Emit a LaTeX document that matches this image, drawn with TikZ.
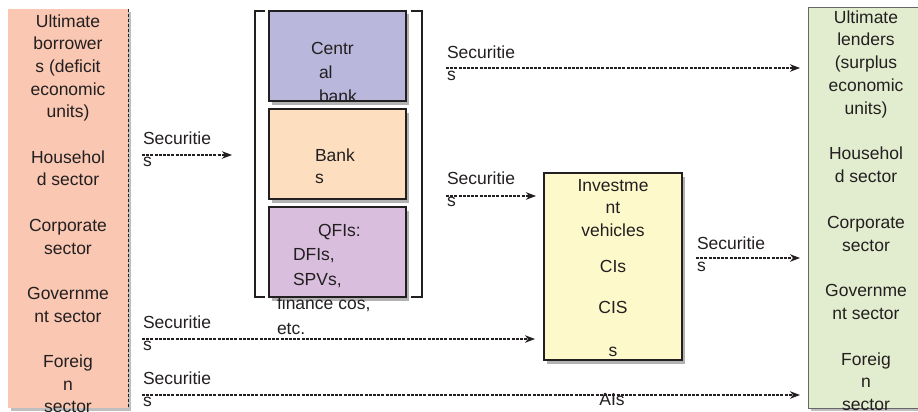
\documentclass[tikz,border=0pt]{standalone}
\usepackage{fontspec}
\setmainfont{Liberation Sans}
\usetikzlibrary{arrows.meta,shadows}
\definecolor{txt}{HTML}{231F20}
\definecolor{borrowfill}{HTML}{F9C7B2}
\definecolor{lendfill}{HTML}{E2EDCF}
\definecolor{cbfill}{HTML}{B9B7DB}
\definecolor{bkfill}{HTML}{FDDFC0}
\definecolor{qfifill}{HTML}{D9BEDD}
\definecolor{invfill}{HTML}{FEF9CA}
\definecolor{edge}{HTML}{231F20}
\tikzset{
  lbl/.style={text=txt, inner sep=0pt, outer sep=0pt, font=\fontsize{17.5}{22.7}\selectfont},
  box/.style={draw=edge, line width=1.4pt, inner sep=0pt, outer sep=0pt, anchor=north west,
    drop shadow={shadow xshift=3pt, shadow yshift=-3.5pt, fill=black, opacity=.3}},
  sidebox/.style={inner sep=0pt, outer sep=0pt, anchor=north west,
    drop shadow={shadow xshift=3pt, shadow yshift=-3pt, fill=black, opacity=.25}},
  flow/.style={draw=edge, line width=1.3pt, dash pattern=on 3pt off 1.2pt,
    -{Stealth[length=10pt,width=7.5pt,inset=3pt]}},
  bracketline/.style={draw=edge, line width=1.5pt}
}
\begin{document}
\begin{tikzpicture}[x=1pt,y=-1pt]
\useasboundingbox (0,0) rectangle (918,412);
\clip (0,0) rectangle (918,412);
% side boxes
\node[sidebox, fill=borrowfill, minimum width=120pt, minimum height=399pt] (borrow) at (8,9) {};
\draw[edge, line width=0.8pt, densely dashed] (borrow.north east) -- (borrow.south east);
\node[sidebox, fill=lendfill, draw=gray!80!black, line width=0.8pt, minimum width=120pt, minimum height=401pt] (lend) at (808,7) {};
% institution boxes
\node[box, fill=cbfill, minimum width=137pt, minimum height=90pt] (cb) at (269,11) {};
\node[box, fill=bkfill, minimum width=137pt, minimum height=90pt] (bk) at (269,109) {};
\node[box, fill=qfifill, minimum width=137pt, minimum height=90pt] (qfi) at (269,207) {};
\node[box, fill=invfill, minimum width=138pt, minimum height=187pt] (inv) at (544,173) {};
% brackets
\coordinate (bla) at (265,11); \coordinate (blb) at (255,11);
\coordinate (blc) at (255,297); \coordinate (bld) at (265,297);
\coordinate (bra) at (411,11); \coordinate (brb) at (422,11);
\coordinate (brc) at (422,297); \coordinate (brd) at (411,297);
\draw[bracketline] (bla) -- (blb) -- (blc) -- (bld);
\draw[bracketline] (bra) -- (brb) -- (brc) -- (brd);
% side texts (anchor base = baseline of the last line)
\node[lbl, align=center, anchor=base] (btxt) at (68,412.9)
 {Ultimate\\borrower\\s (deficit\\economic\\units)\\[22.7pt]Househol\\d sector\\[22.7pt]Corporate\\sector\\[22.7pt]Governme\\nt sector\\[22.7pt]Foreig\\n\\sector};
\node[lbl, align=center, anchor=base, font=\fontsize{17.5}{22.8}\selectfont] (ltxt) at (866,410.6)
 {Ultimate\\lenders\\(surplus\\economic\\units)\\[22.8pt]Househol\\d sector\\[22.8pt]Corporate\\sector\\[22.8pt]Governme\\nt sector\\[22.8pt]Foreig\\n\\sector};
% institution texts
\begin{scope}
\clip (cb.north west) rectangle ([yshift=1pt]cb.south east);
\node[lbl, align=left, anchor=base west, font=\fontsize{17.5}{24.3}\selectfont] (cbt) at (311,102.6)
 {Centr\\\hspace*{8pt}al\\\hspace*{8pt}bank};
\end{scope}
\node[lbl, align=left, anchor=base west, font=\fontsize{17.5}{22}\selectfont] (bkt) at (315,183) {Bank\\s};
\node[lbl, align=left, anchor=base west, font=\fontsize{17.5}{24.5}\selectfont] (qfit) at (277,334)
 {\hspace*{41pt}QFIs:\\\hspace*{16pt}DFIs,\\\hspace*{16pt}SPVs,\\finance cos,\\etc.};
\node[lbl, align=center, anchor=base, font=\fontsize{17.5}{22.5}\selectfont] (invt) at (613,356)
 {Investme\\nt\\vehicles\\[13.5pt]CIs\\[18.5pt]CIS\\[20.5pt]s};
% arrow end points
\coordinate (a1s) at (142,155); \coordinate (a1e) at (232,155);
\coordinate (a2s) at (446,68);  \coordinate (a2e) at (800,68);
\coordinate (a3s) at (446,196); \coordinate (a3e) at (536,196);
\coordinate (a4s) at (696,258); \coordinate (a4e) at (800,258);
\coordinate (a5s) at (142,339); \coordinate (a5e) at (535,339);
\coordinate (a6s) at (142,395); \coordinate (a6e) at (800,395);
\draw[flow] (a1s) -- (a1e);
\draw[flow] (a2s) -- (a2e);
\draw[flow] (a3s) -- (a3e);
\draw[flow] (a4s) -- (a4e);
\draw[flow] (a5s) -- (a5e);
\draw[flow] (a6s) -- (a6e);
% arrow labels (anchor base = baseline of the "s" line)
\node[lbl, align=left, anchor=base west] (s1) at (143,166.7) {Securitie\\s};
\node[lbl, align=left, anchor=base west] (s2) at (447,80.7) {Securitie\\s};
\node[lbl, align=left, anchor=base west] (s3) at (447,206.7) {Securitie\\s};
\node[lbl, align=left, anchor=base west] (s4) at (697,271.7) {Securitie\\s};
\node[lbl, align=left, anchor=base west] (s5) at (143,350.7) {Securitie\\s};
\node[lbl, align=left, anchor=base west] (s6) at (143,406.7) {Securitie\\s};
\node[lbl, anchor=base] (ais) at (612,405) {AIs};
\end{tikzpicture}
\end{document}
